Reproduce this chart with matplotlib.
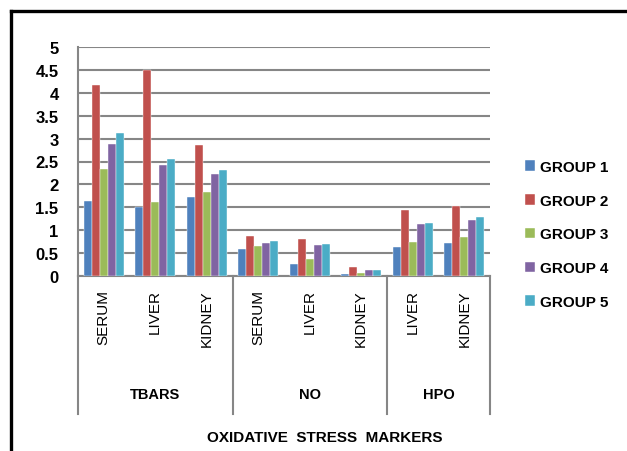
import numpy as np
import matplotlib
matplotlib.use("Agg")
import matplotlib.pyplot as plt
from matplotlib.lines import Line2D

plt.rcParams['font.family'] = ['Liberation Sans', 'DejaVu Sans']

# data
markers = ['TBARS', 'NO', 'HPO']
tissues = ['SERUM', 'LIVER', 'KIDNEY', 'SERUM', 'LIVER', 'KIDNEY', 'LIVER', 'KIDNEY']
marker_sizes = [3, 3, 2]
groups = ['GROUP 1', 'GROUP 2', 'GROUP 3', 'GROUP 4', 'GROUP 5']
group1 = [1.63, 1.51, 1.73, 0.59, 0.26, 0.04, 0.64, 0.73]
group2 = [4.18, 4.49, 2.85, 0.87, 0.80, 0.20, 1.45, 1.53]
group3 = [2.34, 1.61, 1.84, 0.65, 0.38, 0.07, 0.75, 0.86]
group4 = [2.88, 2.43, 2.22, 0.73, 0.67, 0.14, 1.13, 1.22]
group5 = [3.13, 2.55, 2.31, 0.77, 0.69, 0.14, 1.15, 1.28]
colors = ['#4F81BD', '#C0504D', '#9BBB59', '#8064A2', '#4BACC6']

W, H = 627, 452
fig = plt.figure(figsize=(W / 100, H / 100), dpi=100)

# outer frame (top and left edges only visible)
fig.add_artist(Line2D([11 / W, 1], [1 - 12 / H, 1 - 12 / H], color='black', lw=2.4))
fig.add_artist(Line2D([11 / W, 11 / W], [1 - 12 / H, 0], color='black', lw=2.4))

ax = fig.add_axes([78 / W, 1 - 277 / H, (490 - 78) / W, (277 - 48) / H])

series = [group1, group2, group3, group4, group5]
x = np.arange(len(tissues)) + 0.5
bw = 0.155
for i, vals in enumerate(series):
    ax.bar(x + (i - 2) * bw, vals, width=bw, color=colors[i], label=groups[i],
           edgecolor='white', linewidth=0.3, zorder=3)

ax.set_xlim(0, len(tissues))
ax.set_ylim(0, 5)
ax.set_yticks(np.arange(0, 5.01, 0.5))
ax.set_yticklabels(['0', '0.5', '1', '1.5', '2', '2.5', '3', '3.5', '4', '4.5', '5'],
                   fontsize=12, fontweight='bold')
ax.tick_params(axis='y', length=0, pad=14)
ax.set_xticks([])
ax.grid(axis='y', color='#868686', lw=1.5, zorder=0)
for s in ['top', 'right']:
    ax.spines[s].set_visible(False)
ax.spines['left'].set_color('#868686')
ax.spines['left'].set_linewidth(1.5)
ax.spines['bottom'].set_color('#868686')
ax.spines['bottom'].set_linewidth(1.5)

ax_h = 277 - 48
trans = ax.get_xaxis_transform()
for xi, t in zip(x, tissues):
    ax.text(xi, -(290 - 277) / ax_h, t, rotation=90, ha='center', va='top',
            fontsize=11, transform=trans)

# group separators and group labels
edges = np.concatenate([[0], np.cumsum(marker_sizes)])
for e in edges:
    ax.plot([e, e], [0, -(415 - 277) / ax_h], color='#868686', lw=1.5,
            transform=trans, clip_on=False)
for k, m in enumerate(markers):
    mid = (edges[k] + edges[k + 1]) / 2
    ax.text(mid, -(395 - 277) / ax_h, m, ha='center', va='center',
            fontsize=10.5, fontweight='bold', transform=trans)

fig.text(325 / W, 1 - 438 / H, 'OXIDATIVE  STRESS  MARKERS', ha='center', va='center',
         fontsize=11, fontweight='bold')

leg = ax.legend(loc='upper left', bbox_to_anchor=(517 / W, 1 - 153 / H),
                bbox_transform=fig.transFigure, frameon=False, fontsize=11,
                handlelength=0.7, handleheight=0.7, handletextpad=0.3,
                labelspacing=1.3, borderpad=0)
for t in leg.get_texts():
    t.set_fontweight('bold')

fig.savefig('out.png', dpi=100)
